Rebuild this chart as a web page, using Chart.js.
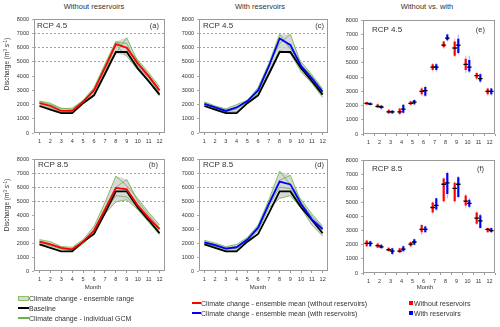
<!DOCTYPE html>
<html><head><meta charset="utf-8">
<script src="https://cdn.jsdelivr.net/npm/chart.js@4/dist/chart.umd.min.js"></script>
<style>
html,body{margin:0;padding:0;background:#fff;}
#root{position:relative;width:500px;height:327px;overflow:hidden;font-family:"Liberation Sans",Arial,sans-serif;color:#333;}
.box{position:absolute;}
.t{position:absolute;white-space:nowrap;line-height:1;color:#333;}
.c{transform:translate(-50%,-50%);}
.l{transform:translate(0,-50%);}
.r{transform:translate(-100%,-50%);}
.sw{position:absolute;}
sup{font-size:70%;vertical-align:0;position:relative;top:-0.45em;}
</style></head><body><div id="root">
<div class="box" id="pa"><canvas id="ca"></canvas></div>
<div class="box" id="pc"><canvas id="cc"></canvas></div>
<div class="box" id="pe"><canvas id="ce"></canvas></div>
<div class="box" id="pb"><canvas id="cb"></canvas></div>
<div class="box" id="pd"><canvas id="cd"></canvas></div>
<div class="box" id="pf"><canvas id="cf"></canvas></div>

<div class="t c" style="left:94px;top:7px;font-size:7.5px">Without reservoirs</div>
<div class="t c" style="left:260px;top:7px;font-size:7.5px">With reservoirs</div>
<div class="t c" style="left:427px;top:7px;font-size:7.5px">Without vs. with</div>

<div class="t l" style="left:37px;top:26px;font-size:8px">RCP 4.5</div>
<div class="t l" style="left:203px;top:26px;font-size:8px">RCP 4.5</div>
<div class="t l" style="left:372px;top:30px;font-size:8px">RCP 4.5</div>
<div class="t l" style="left:38px;top:165px;font-size:8px">RCP 8.5</div>
<div class="t l" style="left:203px;top:165px;font-size:8px">RCP 8.5</div>
<div class="t l" style="left:372px;top:169px;font-size:8px">RCP 8.5</div>

<div class="t r" style="left:159px;top:26px;font-size:7.5px">(a)</div>
<div class="t r" style="left:324px;top:26px;font-size:7.5px">(c)</div>
<div class="t r" style="left:485px;top:30px;font-size:7.5px">(e)</div>
<div class="t r" style="left:158px;top:165px;font-size:7.5px">(b)</div>
<div class="t r" style="left:324px;top:165px;font-size:7.5px">(d)</div>
<div class="t r" style="left:484px;top:169px;font-size:7.5px">(f)</div>

<div class="t" style="left:7px;top:64px;font-size:6.5px;transform:translate(-50%,-50%) rotate(-90deg)">Discharge (m<sup>3</sup> s<sup>-1</sup>)</div>
<div class="t" style="left:7px;top:205px;font-size:6.5px;transform:translate(-50%,-50%) rotate(-90deg)">Discharge (m<sup>3</sup> s<sup>-1</sup>)</div>

<div class="t c" style="left:93px;top:287px;font-size:6px">Month</div>
<div class="t c" style="left:258px;top:287px;font-size:6px">Month</div>
<div class="t c" style="left:425px;top:287px;font-size:6px">Month</div>

<div class="sw" style="left:18px;top:296px;width:9px;height:3px;background:#d8d8d8;border:1px solid #8cc06a"></div>
<div class="t l" style="left:29px;top:298px;font-size:7px">Climate change - ensemble range</div>
<div class="sw" style="left:18px;top:307px;width:11px;height:1.5px;background:#000"></div>
<div class="t l" style="left:29px;top:308px;font-size:7px">Baseline</div>
<div class="sw" style="left:18px;top:317px;width:11px;height:1.5px;background:#6fb04c"></div>
<div class="t l" style="left:29px;top:318px;font-size:7px">Climate change - individual GCM</div>

<div class="sw" style="left:192px;top:302px;width:9px;height:1.5px;background:#ff0000"></div>
<div class="t l" style="left:201px;top:303px;font-size:7px">Climate change - ensemble mean (without reservoirs)</div>
<div class="sw" style="left:192px;top:312px;width:9px;height:1.5px;background:#0000ff"></div>
<div class="t l" style="left:201px;top:313px;font-size:7px">Climate change - ensemble mean (with reservoirs)</div>

<div class="sw" style="left:409px;top:301px;width:4px;height:4px;background:#ff0000"></div>
<div class="t l" style="left:414px;top:303px;font-size:7px">Without reservoirs</div>
<div class="sw" style="left:409px;top:311px;width:4px;height:4px;background:#0000ff"></div>
<div class="t l" style="left:414px;top:313px;font-size:7px">With reservoirs</div>
</div>
<script>
// ---------- data ----------
const months = ['1','2','3','4','5','6','7','8','9','10','11','12'];
const yTicks = [0,1000,2000,3000,4000,5000,6000,7000,8000];
const dashedLevels = [5000,6000,7000];

const baseline = [1900,1650,1400,1400,2100,2650,4150,5700,5700,4550,3650,2700];

// (a) RCP 4.5 without reservoirs
const rcp45WithoutMean = [2100,1900,1550,1550,2200,3000,4600,6250,6000,4900,4000,3000];
const rcp45WithoutGcm1 = [2250,2100,1700,1750,2300,3200,4850,6450,5900,5150,4250,3250];
const rcp45WithoutGcm2 = [2100,1950,1600,1500,2200,3000,4600,5600,6700,5000,4100,3000];
const rcp45WithoutGcm3 = [1950,1750,1450,1400,2050,2750,4300,6200,5400,4450,3650,2600];
const rcp45WithoutGcm4 = [2200,2000,1750,1650,2250,3100,4700,6400,6300,4700,3900,2850];

// (b) RCP 8.5 without reservoirs
const rcp85WithoutMean = [2100,1900,1650,1550,2100,2900,4400,5950,5850,4700,3800,3000];
const rcp85WithoutGcm1 = [2250,2100,1750,1700,2250,3200,4900,6800,6100,5200,4200,3300];
const rcp85WithoutGcm2 = [2150,1950,1650,1550,2100,2950,4500,6000,6550,5000,4000,3100];
const rcp85WithoutGcm3 = [1950,1800,1550,1450,1950,2750,4100,4950,5100,4400,3500,2600];
const rcp85WithoutGcm4 = [2050,1900,1600,1500,2050,2850,4300,5400,5300,4600,3700,2800];

// (c) RCP 4.5 with reservoirs
const rcp45WithMean = [2050,1800,1550,1800,2250,3000,4700,6650,6200,4700,3850,2900];
const rcp45WithGcm1 = [2200,1900,1700,2000,2300,3200,4900,6950,5900,5000,4100,3100];
const rcp45WithGcm2 = [2100,1850,1600,1800,2250,3100,4800,6300,6950,4800,4000,3000];
const rcp45WithGcm3 = [1950,1700,1450,1500,2150,2800,4300,5800,5600,4300,3500,2500];
const rcp45WithGcm4 = [2050,1800,1500,1700,2200,2950,4600,6700,6100,4500,3700,2800];

// (d) RCP 8.5 with reservoirs
const rcp85WithMean = [2050,1850,1600,1700,2250,3100,4800,6400,6200,4800,3700,3000];
const rcp85WithGcm1 = [2200,2000,1750,1900,2400,3300,5100,7150,6200,5100,4100,3200];
const rcp85WithGcm2 = [2100,1900,1650,1750,2300,3150,4900,6500,6850,4900,3900,3100];
const rcp85WithGcm3 = [1950,1750,1400,1500,2100,2900,4500,5200,5400,4500,3300,2500];
const rcp85WithGcm4 = [2000,1800,1550,1650,2200,3050,4700,6000,5900,4700,3600,2900];

// (e) RCP 4.5 comparison (min, lower box, upper box, max, central)
const e45WithoutMin = [2000,1800,1400,1300,2000,2700,4400,6000,5400,4300,3800,2700];
const e45WithoutLo  = [2050,1850,1450,1400,2050,2800,4500,6100,5500,4500,3900,2800];
const e45WithoutHi  = [2250,2100,1700,1800,2300,3200,4900,6500,6500,5300,4300,3200];
const e45WithoutMax = [2300,2200,1750,1850,2350,3300,5000,6550,6700,5500,4400,3250];
const e45WithoutMid = [2150,1950,1550,1550,2150,3000,4700,6250,6050,4900,4100,3000];
const e45WithMin = [1950,1700,1400,1400,2000,2600,4400,6500,5600,4300,3600,2700];
const e45WithLo  = [2050,1800,1450,1500,2100,2700,4500,6600,5700,4400,3700,2800];
const e45WithHi  = [2200,2000,1650,2050,2400,3300,4900,7000,6700,5200,4200,3200];
const e45WithMax = [2250,2050,1700,2100,2450,3400,5000,7050,7000,5500,4300,3250];
const e45WithMid = [2100,1900,1550,1750,2250,3050,4700,6750,6250,4700,3900,3000];

// (f) RCP 8.5 comparison
const f85WithoutMin = [1850,1750,1500,1400,1850,2700,4200,5000,5000,4600,3400,2850];
const f85WithoutLo  = [1900,1800,1550,1450,1900,2900,4300,5100,5100,4800,3500,2900];
const f85WithoutHi  = [2300,2100,1800,1750,2200,3400,5000,6700,6400,5500,4300,3200];
const f85WithoutMax = [2350,2150,1850,1800,2250,3500,5100,6800,6500,5600,4400,3250];
const f85WithoutMid = [2100,1950,1650,1550,2050,3100,4650,6300,6000,5100,3900,3100];
const f85WithMin = [1850,1700,1300,1500,1950,2850,4400,5300,5300,4600,3150,2850];
const f85WithLo  = [1900,1750,1350,1550,2000,2900,4500,5600,5400,4700,3200,2900];
const f85WithHi  = [2250,2000,1750,1900,2400,3300,5300,7100,6800,5200,4100,3200];
const f85WithMax = [2300,2050,1800,1950,2450,3350,5350,7200,6900,5300,4200,3250];
const f85WithMid = [2100,1850,1550,1700,2200,3100,4800,6400,6300,4950,3700,3000];

// ---------- styling / layout ----------
const RED='#ff0000', BLUE='#0000ff', GREEN='#6fb04c';
const YW=30, XH=16, PT=6, PR=4;
const frame = {
  id:'frame',
  afterDatasetsDraw(chart){
    const a=chart.chartArea, c=chart.ctx;
    c.save(); c.strokeStyle='#9a9a9a'; c.lineWidth=1;
    c.strokeRect(Math.round(a.left)+0.5, Math.round(a.top)+0.5, Math.round(a.right-a.left)-1, Math.round(a.bottom-a.top)-1);
    c.restore();
  }
};

function place(pid, cid, P){
  const w = P.R-P.L+YW+PR, h = P.B-P.T+PT+XH;
  const d=document.getElementById(pid);
  d.style.left=(P.L-YW)+'px'; d.style.top=(P.T-PT)+'px';
  d.style.width=w+'px'; d.style.height=h+'px';
  const cv=document.getElementById(cid);
  cv.width=w; cv.height=h; cv.style.width=w+'px'; cv.style.height=h+'px';
  return cv;
}

function scales(dashed, bar){
  return {
    x:{ type:'category', offset:true, stacked: bar ? true : undefined,
        grid:{display:true, drawOnChartArea:false, tickLength:2, tickColor:'#999'},
        border:{display:false},
        ticks:{font:{family:'Liberation Sans', size:5.5}, color:'#333', padding:3, autoSkip:false, maxRotation:0},
        afterFit:(s)=>{s.height=XH;} },
    y:{ min:0, max:8000, stacked:false,
        afterBuildTicks:(s)=>{ s.ticks = yTicks.map(v=>({value:v})); },
        grid:{display:true, drawOnChartArea:dashed, tickLength:2, tickColor:'#999',
              color:(ctx)=> (dashed && ctx.tick && dashedLevels.includes(ctx.tick.value)) ? '#8a8a8a' : 'rgba(0,0,0,0)',
              lineWidth:0.8},
        border:{display:false, dash:[2,2]},
        ticks:{font:{family:'Liberation Sans', size:5.5}, color:'#333', padding:3, callback:(v)=>String(v)},
        afterFit:(s)=>{s.width=YW;} }
  };
}

function linePanel(pid, cid, P, mean, meanColor, gcms){
  const cv = place(pid, cid, P);
  const hi = months.map((_,i)=>Math.max(...gcms.map(g=>g[i])));
  const lo = months.map((_,i)=>Math.min(...gcms.map(g=>g[i])));
  const ds = [
    {data:mean, borderColor:meanColor, borderWidth:1.8},
    {data:baseline, borderColor:'#000', borderWidth:1.8},
    ...gcms.map(g=>({data:g, borderColor:GREEN, borderWidth:0.8})),
    {data:hi, borderWidth:0, borderColor:'rgba(0,0,0,0)', fill:'+1', backgroundColor:'rgba(200,200,200,0.7)'},
    {data:lo, borderWidth:0, borderColor:'rgba(0,0,0,0)', fill:false}
  ].map(d=>Object.assign({pointRadius:0, tension:0, fill:false}, d));
  new Chart(cv, {
    type:'line',
    data:{labels:months, datasets:ds},
    options:{responsive:false, animation:false, devicePixelRatio:1,
      layout:{padding:{top:PT, right:PR, left:0, bottom:0}},
      plugins:{legend:{display:false}, tooltip:{enabled:false}},
      scales:scales(true,false)},
    plugins:[frame]
  });
}

function barPanel(pid, cid, P, w, b){
  const cv = place(pid, cid, P);
  const cp = 0.66;
  const mk = (stack, color, arr, bp, fn) => ({stack, backgroundColor:color, barPercentage:bp, categoryPercentage:cp,
      borderWidth:0, data: fn(arr)});
  const tick = (a)=>a.mid.map(v=>[v-45, v+45]);
  const boxf = (a)=>a.lo.map((v,i)=>[v, a.hi[i]]);
  const whf  = (a)=>a.min.map((v,i)=>[v, a.max[i]]);
  const ds = [
    mk('r','#000', w, 1.25, tick),
    mk('b','#000', b, 1.25, tick),
    mk('r', RED, w, 0.6, boxf),
    mk('b', BLUE, b, 0.6, boxf),
    mk('r','rgba(255,110,110,0.55)', w, 0.3, whf),
    mk('b','rgba(110,110,255,0.55)', b, 0.3, whf)
  ];
  new Chart(cv, {
    type:'bar',
    data:{labels:months, datasets:ds},
    options:{responsive:false, animation:false, devicePixelRatio:1,
      layout:{padding:{top:PT, right:PR, left:0, bottom:0}},
      plugins:{legend:{display:false}, tooltip:{enabled:false}},
      scales:scales(false,true)},
    plugins:[frame]
  });
}

linePanel('pa','ca',{L:34,R:165,T:19,B:133}, rcp45WithoutMean, RED,
  [rcp45WithoutGcm1,rcp45WithoutGcm2,rcp45WithoutGcm3,rcp45WithoutGcm4]);
linePanel('pc','cc',{L:199,R:328,T:19,B:133}, rcp45WithMean, BLUE,
  [rcp45WithGcm1,rcp45WithGcm2,rcp45WithGcm3,rcp45WithGcm4]);
linePanel('pb','cb',{L:34,R:165,T:159,B:271}, rcp85WithoutMean, RED,
  [rcp85WithoutGcm1,rcp85WithoutGcm2,rcp85WithoutGcm3,rcp85WithoutGcm4]);
linePanel('pd','cd',{L:199,R:328,T:159,B:271}, rcp85WithMean, BLUE,
  [rcp85WithGcm1,rcp85WithGcm2,rcp85WithGcm3,rcp85WithGcm4]);
barPanel('pe','ce',{L:363,R:495,T:20,B:134},
  {min:e45WithoutMin, lo:e45WithoutLo, hi:e45WithoutHi, max:e45WithoutMax, mid:e45WithoutMid},
  {min:e45WithMin, lo:e45WithLo, hi:e45WithHi, max:e45WithMax, mid:e45WithMid});
barPanel('pf','cf',{L:363,R:495,T:160,B:273},
  {min:f85WithoutMin, lo:f85WithoutLo, hi:f85WithoutHi, max:f85WithoutMax, mid:f85WithoutMid},
  {min:f85WithMin, lo:f85WithLo, hi:f85WithHi, max:f85WithMax, mid:f85WithMid});
</script>
</body></html>
